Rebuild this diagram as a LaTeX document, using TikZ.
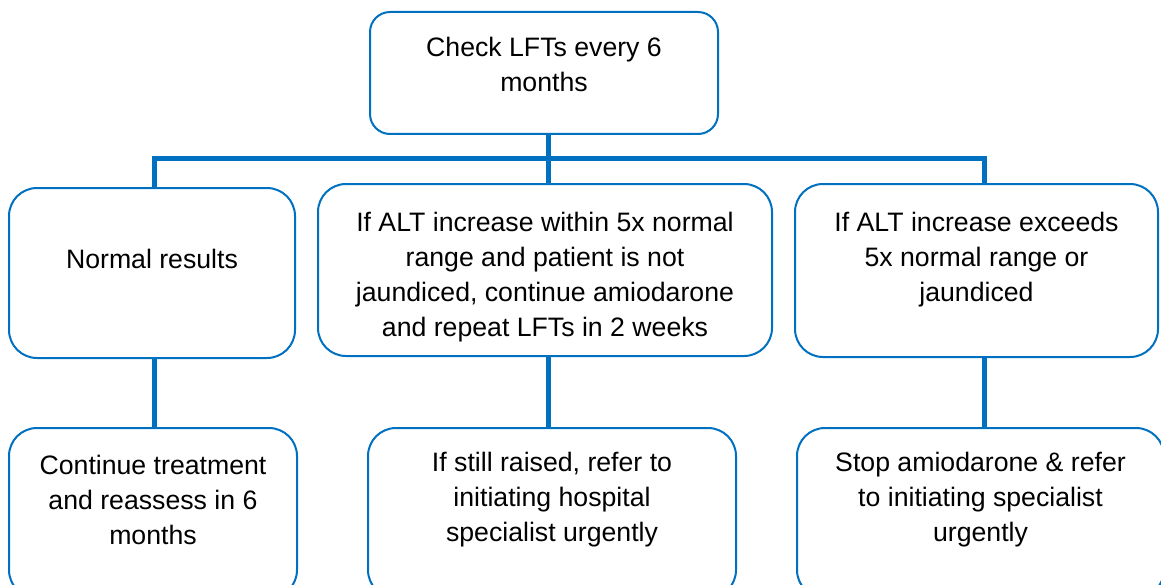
\documentclass[tikz,border=0pt]{standalone}
\usepackage{fontspec}
\setmainfont{Liberation Sans}
\usepackage{tikz}
\definecolor{lftblue}{RGB}{0,112,192}

\begin{document}
\begin{tikzpicture}[
        x=0.75pt, y=-0.75pt,
        box/.style 2 args = {draw=lftblue, line width=1.5pt, rounded corners=21pt, fill=white,
                             minimum width=#1*0.75pt, minimum height=#2*0.75pt, inner sep=0pt},
        txt/.style = {align=center, font=\fontsize{20}{26.25}\selectfont, inner sep=0pt},
        link/.style = {draw=lftblue, line width=3.75pt},
    ]
    \clip (0,0) rectangle (1161,585);
    % top
    \node[box={348}{122}, rounded corners=15pt] (check) at (544,73) {};
    \node[txt] (checkt) at (544,64) {Check LFTs every 6\\months};
    % middle row
    \node[box={286}{170}] (normal) at (152,273) {};
    \node[txt] (normalt) at (152,259) {Normal results};
    \node[box={454}{172}] (within) at (545,270) {};
    \node[txt] (withint) at (545,277) {If ALT increase within 5x normal\\range and patient is not\\jaundiced, continue amiodarone\\and repeat LFTs in 2 weeks};
    \node[box={363}{173}] (exceeds) at (976.5,270.5) {};
    \node[txt] (exceedst) at (976.5,260) {If ALT increase exceeds\\5x normal range or\\jaundiced};
    % bottom row
    \node[box={288}{170}] (cont) at (153,513) {};
    \node[txt] (contt) at (153,500) {Continue treatment\\and reassess in 6\\months};
    \node[box={368}{170}] (still) at (552,513) {};
    \node[txt] (stillt) at (552,500) {If still raised, refer to\\initiating hospital\\specialist urgently};
    \node[box={367}{170}] (stop) at (980.5,513) {};
    \node[txt] (stopt) at (980.5,500) {Stop amiodarone \& refer\\to initiating specialist\\urgently};
    % bus
    \coordinate (busL) at (154.5,158);
    \coordinate (busM) at (548,158);
    \coordinate (busR) at (984.5,158);
    \draw[link] (busL |- normal.north) -- (busL) -- (busR) -- (busR |- exceeds.north);
    \draw[link] (busM |- check.south) -- (busM |- within.north);
    % down links
    \draw[link] (busL |- normal.south) -- (busL |- cont.north);
    \draw[link] (busM |- within.south) -- (busM |- still.north);
    \draw[link] (busR |- exceeds.south) -- (busR |- stop.north);
\end{tikzpicture}
\end{document}
